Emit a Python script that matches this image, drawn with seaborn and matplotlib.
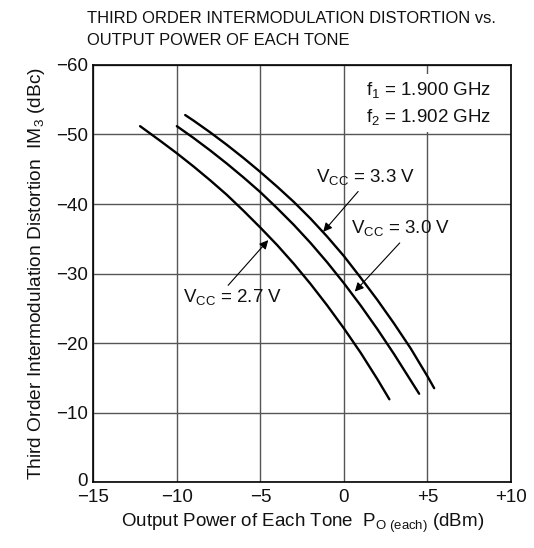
import matplotlib
matplotlib.use("Agg")
import matplotlib.pyplot as plt
import matplotlib.transforms as mtransforms
import seaborn as sns
import pandas as pd

# ---- data ----
x_27 = [-12.2, -11.0, -10.0, -9.0, -8.0, -7.0, -6.0, -5.0, -4.0, -3.0, -2.0, -1.0, 0.0, 1.0, 2.0, 2.72]
y_27 = [-51.2, -49.1, -47.3, -45.4, -43.4, -41.3, -39.0, -36.6, -34.1, -31.4, -28.5, -25.4, -22.1, -18.6, -14.8, -11.9]

x_30 = [-10.0, -9.0, -8.0, -7.0, -6.0, -5.0, -4.0, -3.0, -2.0, -1.0, 0.0, 1.0, 2.0, 3.0, 4.0, 4.5]
y_30 = [-51.2, -49.5, -47.7, -45.8, -43.8, -41.7, -39.4, -37.0, -34.4, -31.6, -28.6, -25.4, -22.0, -18.4, -14.6, -12.7]

x_33 = [-9.5, -9.0, -8.0, -7.0, -6.0, -5.0, -4.0, -3.0, -2.0, -1.0, 0.0, 1.0, 2.0, 3.0, 4.0, 5.0, 5.4]
y_33 = [-52.8, -52.0, -50.3, -48.5, -46.6, -44.6, -42.5, -40.3, -37.9, -35.3, -32.5, -29.4, -26.2, -22.8, -19.2, -15.2, -13.5]

series_names = ["2.7 V", "3.0 V", "3.3 V"]
x_ticks = [-15, -10, -5, 0, 5, 10]
x_tick_labels = ["\u221215", "\u221210", "\u22125", "0", "+5", "+10"]
y_ticks = [0, -10, -20, -30, -40, -50, -60]
y_tick_labels = ["0", "\u221210", "\u221220", "\u221230", "\u221240", "\u221250", "\u221260"]

frames = []
for name, xs, ys in zip(series_names, [x_27, x_30, x_33], [y_27, y_30, y_33]):
    frames.append(pd.DataFrame({"po": xs, "im3": ys, "vcc": name}))
df = pd.concat(frames, ignore_index=True)

sns.set_theme(style="white")
plt.rcParams["font.family"] = ["Liberation Sans", "DejaVu Sans"]
plt.rcParams["mathtext.fontset"] = "custom"
plt.rcParams["mathtext.rm"] = "Liberation Sans"
plt.rcParams["mathtext.it"] = "Liberation Sans"
plt.rcParams["mathtext.default"] = "regular"

FS = 13.5
TXT = "#111111"

fig = plt.figure(figsize=(5.34, 5.48), dpi=100)
ax = fig.add_axes([0.1747, 0.1204, 0.7823, 0.7610])

sns.lineplot(data=df, x="po", y="im3", hue="vcc", units="vcc", estimator=None,
             sort=False, palette=["black"] * 3, linewidth=1.7, legend=False, ax=ax,
             zorder=3)

ax.set_xlim(-15, 10)
ax.set_ylim(0, -60)
ax.set_xticks(x_ticks)
ax.set_xticklabels(x_tick_labels)
ax.set_yticks(y_ticks)
ax.set_yticklabels(y_tick_labels)
ax.tick_params(axis="both", length=0, labelsize=FS, colors=TXT)
ax.tick_params(axis="x", pad=5)
ax.tick_params(axis="y", pad=4)
ax.grid(True, color="#555555", linewidth=1.0)
ax.set_axisbelow(True)
for s in ax.spines.values():
    s.set_visible(True)
    s.set_color("black")
    s.set_linewidth(1.2)

# nudge the "0" y tick label up slightly so it does not collide with "-15"
for lab in ax.get_yticklabels():
    if lab.get_text() == "0":
        lab.set_transform(lab.get_transform() +
                          mtransforms.ScaledTranslation(0, 3 / 100, fig.dpi_scale_trans))

ax.set_xlabel("Output Power of Each Tone  P$_{O\\ (each)}$ (dBm)", fontsize=FS,
              color=TXT, labelpad=4)
ax.set_ylabel("Third Order Intermodulation Distortion  IM$_3$ (dBc)", fontsize=FS + 0.3,
              color=TXT, labelpad=6)

fig.text(0.163, 0.980, "THIRD ORDER INTERMODULATION DISTORTION vs.\nOUTPUT POWER OF EACH TONE",
         ha="left", va="top", fontsize=11.9, color=TXT, linespacing=1.6,
         family=["Liberation Sans Narrow", "Liberation Sans"])

ax.text(8.8, -54.5, "f$_1$ = 1.900 GHz\nf$_2$ = 1.902 GHz", ha="right", va="center",
        fontsize=FS, color=TXT, linespacing=1.45,
        bbox=dict(boxstyle="square,pad=0.3", fc="white", ec="none"), zorder=2.5)

arrow = dict(arrowstyle="-|>", lw=0.8, color="black", shrinkA=0, shrinkB=0,
             mutation_scale=13)
ax.text(-1.7, -42.4, "V$_{CC}$ = 3.3 V", fontsize=FS, color=TXT, ha="left", va="bottom")
ax.annotate("", xy=(-1.24, -36.0), xytext=(0.85, -41.8), arrowprops=arrow)
ax.text(0.45, -35.1, "V$_{CC}$ = 3.0 V", fontsize=FS, color=TXT, ha="left", va="bottom")
ax.annotate("", xy=(0.65, -27.4), xytext=(3.34, -34.4), arrowprops=arrow)
ax.text(-9.65, -25.2, "V$_{CC}$ = 2.7 V", fontsize=FS, color=TXT, ha="left", va="bottom")
ax.annotate("", xy=(-4.53, -34.8), xytext=(-6.93, -28.3), arrowprops=arrow)

fig.savefig("out.png", dpi=100)
